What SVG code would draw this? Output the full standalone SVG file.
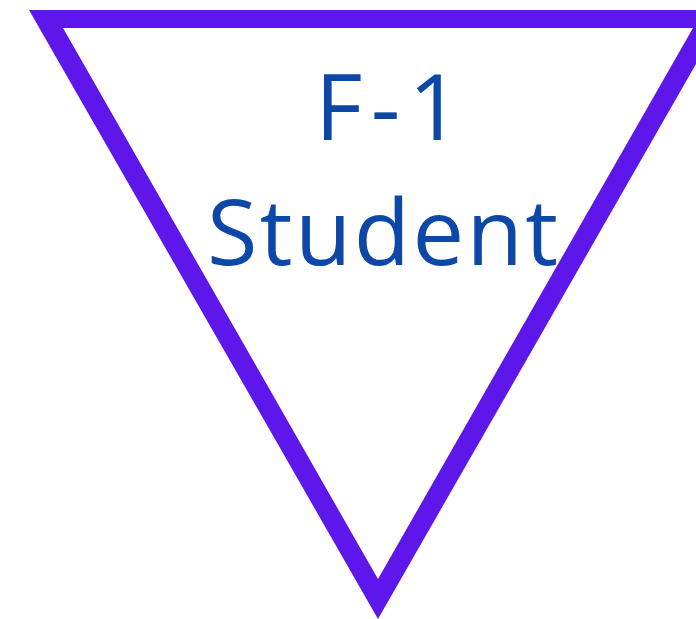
<svg xmlns="http://www.w3.org/2000/svg" width="696" height="619" viewBox="0 0 696 619">
  <style>
    .tri { fill: #5E17EB; fill-rule: evenodd; }
    .lbl { font-family: "Open Sans", "Noto Sans", sans-serif; font-size: 92px; fill: #0D47A8; }
  </style>
  <rect width="696" height="619" fill="#ffffff"/>
  <g id="node-f1-student">
    <path class="tri" d="M29,10 L727,10 L378,619 Z M63,28 L693,28 L378,579 Z"/>
    <text class="lbl" x="315" y="140" textLength="146" lengthAdjust="spacing">F-1</text>
    <text class="lbl" x="207" y="265" textLength="351" lengthAdjust="spacing">Student</text>
  </g>
  <g id="connectors"></g>
</svg>
